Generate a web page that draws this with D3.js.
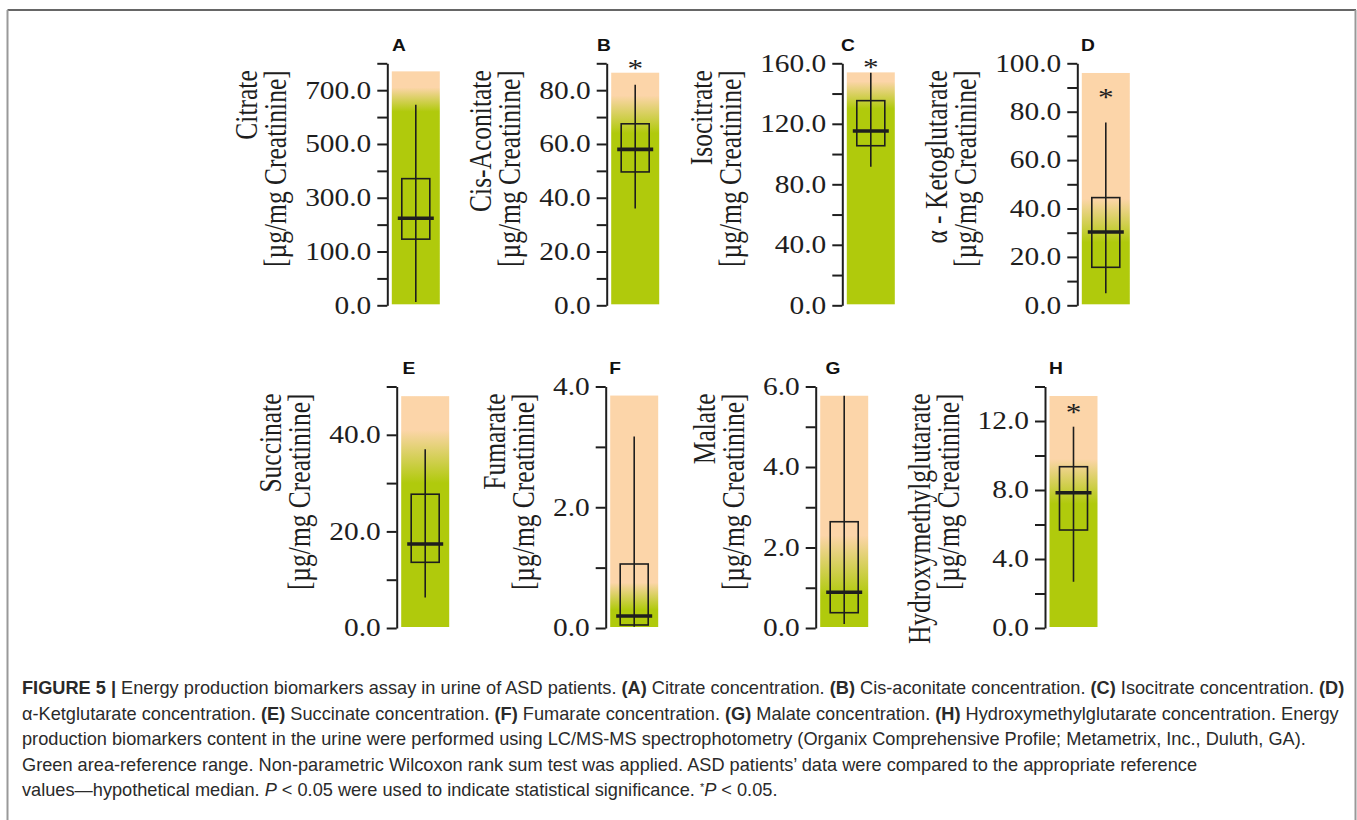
<!DOCTYPE html>
<html><head><meta charset="utf-8">
<script src="https://cdn.jsdelivr.net/npm/d3@7"></script>
<style>
body{margin:0;background:#fff;}
svg{display:block;}
</style></head><body>
<svg id="chart" width="1357" height="820"></svg>
<script>
// ---------------- DATA ----------------
const letters = ["A","B","C","D","E","F","G","H"];
const metabolites = ["Citrate","Cis-Aconitate","Isocitrate","α - Ketoglutarate","Succinate","Fumarate","Malate","Hydroxymethylglutarate"];
const unitLabel = "[µg/mg Creatinine]";
const whiskerLow  = [6,   36,   91.6,  5,    6.3,  0.02, 0.1,  2.68];
const q1          = [146, 49.6, 105.5, 15.7, 13.6, 0.05, 0.38, 5.68];
const median      = [224, 58,   115.2, 30.3, 17.4, 0.2,  0.89, 7.84];
const q3          = [371, 67.5, 135.3, 44.5, 27.7, 1.06, 2.64, 9.35];
const whiskerHigh = [646, 82,   153.8, 75.5, 37,   3.17, 5.77, 11.67];
const refUpper    = [620, 64,   130,   26,   30,   0.3,  0.8,  7.2];   // top of solid green (reference range)
const refFadeTop  = [710, 78,   148,   44,   41,   0.75, 2.3,  9.8];   // where shading turns fully orange
const shadeMax    = [770, 86.5, 154,   96,   48,   3.85, 5.77, 13.45];
const majorTicks = [[0,100,300,500,700],[0,20,40,60,80],[0,40,80,120,160],[0,20,40,60,80,100],[0,20,40],[0,2,4],[0,2,4,6],[0,4,8,12]];
const minorTicks = [[50,200,400,600,800],[10,30,50,70,90],[20,60,100,140],[10,30,50,70,90],[10,30,50],[1,3],[1,3,5],[2,6,10,14]];
const starAt = [null, 90.2, 161, 88, null, null, null, 12.8];
const captionLines = [
  [["FIGURE 5 |","b"],[" Energy production biomarkers assay in urine of ASD patients. ",""],["(A)","b"],[" Citrate concentration. ",""],["(B)","b"],[" Cis-aconitate concentration. ",""],["(C)","b"],[" Isocitrate concentration. ",""],["(D)","b"]],
  [["α-Ketglutarate concentration. ",""],["(E)","b"],[" Succinate concentration. ",""],["(F)","b"],[" Fumarate concentration. ",""],["(G)","b"],[" Malate concentration. ",""],["(H)","b"],[" Hydroxymethylglutarate concentration. Energy",""]],
  [["production biomarkers content in the urine were performed using LC/MS-MS spectrophotometry (Organix Comprehensive Profile; Metametrix, Inc., Duluth, GA).",""]],
  [["Green area-reference range. Non-parametric Wilcoxon rank sum test was applied. ASD patients’ data were compared to the appropriate reference",""]],
  [["values\u2014hypothetical median. ",""],["P","i"],[" < 0.05 were used to indicate statistical significance. ",""],["*","s"],["P","i"],[" < 0.05.",""]]
];

// ---------------- LAYOUT ----------------
const svg = d3.select("#chart");
const SX = 1.2;                       // horizontal stretch of the original figure text
const GREEN = "#b0ca0c", ORANGE = "#fcd5a9", INK = "#1e1e1e";
const axisX   = [387.3, 606.7, 842.3, 1077.3, 396.7, 605.7, 815.7, 1045];
const letterX = [399, 604, 848, 1088, 409, 615, 833, 1056];
const rowTop  = [63.3, 386.5], rowZero = [305.3, 628];

// frame
svg.append("line").attr("x1",7.5).attr("x2",1356).attr("y1",10).attr("y2",10).attr("stroke","#333").attr("stroke-width",1.5);
svg.append("line").attr("x1",7.5).attr("x2",7.5).attr("y1",10).attr("y2",820).attr("stroke","#999").attr("stroke-width",2);
svg.append("line").attr("x1",1355.5).attr("x2",1355.5).attr("y1",10).attr("y2",820).attr("stroke","#999").attr("stroke-width",2);

const defs = svg.append("defs");

letters.forEach((L, i) => {
  const row = i < 4 ? 0 : 1;
  const top = rowTop[row], y0 = rowZero[row], H = y0 - top;
  const ticks = majorTicks[i].concat(minorTicks[i]).sort((a,b)=>a-b);
  const n = ticks.length;
  // axis ticks are evenly spaced in the original figure
  const y = d3.scaleLinear().domain(ticks).range(ticks.map((_,k) => y0 - k*H/(n-1)));
  const ax = axisX[i];
  const g = svg.append("g");

  // shading gradient
  const gid = "grad" + i;
  const grad = defs.append("linearGradient").attr("id", gid)
    .attr("gradientUnits","userSpaceOnUse").attr("x1",0).attr("x2",0)
    .attr("y1", y(refUpper[i])).attr("y2", y(refFadeTop[i]));
  grad.append("stop").attr("offset",0).attr("stop-color",GREEN);
  grad.append("stop").attr("offset",1).attr("stop-color",ORANGE);

  const rx = ax + 4.5, rw = 48, cx = rx + rw/2;
  g.append("rect").attr("x", rx).attr("width", rw)
    .attr("y", y(shadeMax[i])).attr("height", y(0) - 1 - y(shadeMax[i]))
    .attr("fill", `url(#${gid})`);

  // whisker
  g.append("line").attr("x1",cx).attr("x2",cx).attr("y1",y(whiskerLow[i])).attr("y2",y(whiskerHigh[i]))
    .attr("stroke",INK).attr("stroke-width",1.6);
  // box
  g.append("rect").attr("x",cx-14).attr("width",28).attr("y",y(q3[i])).attr("height",y(q1[i])-y(q3[i]))
    .attr("fill","none").attr("stroke",INK).attr("stroke-width",1.6);
  // median
  g.append("line").attr("x1",cx-18).attr("x2",cx+18).attr("y1",y(median[i])).attr("y2",y(median[i]))
    .attr("stroke",INK).attr("stroke-width",3.6);

  // axis
  const axis = d3.axisLeft(y).tickValues(ticks).tickSize(10).tickSizeOuter(0).tickPadding(6)
    .tickFormat(d => majorTicks[i].includes(d) ? d.toFixed(1) : "");
  const ag = g.append("g").attr("transform", `translate(${ax},0)`).call(axis);
  ag.select(".domain").attr("stroke",INK).attr("stroke-width",2);
  ag.selectAll(".tick line").attr("stroke",INK).attr("stroke-width",2);
  ag.selectAll(".tick text").attr("fill",INK)
    .style("font-family","'Liberation Serif','Times New Roman',serif").style("font-size","24.5px")
    .each(function(){ const t = d3.select(this); const x = +t.attr("x");
      t.attr("x",0).attr("transform",`translate(${x},0) scale(${SX},1)`); });

  // left extent of tick labels
  let minLeft = Infinity;
  ag.selectAll(".tick text").each(function(){
    if (!this.textContent) return;
    const b = this.getBoundingClientRect(); minLeft = Math.min(minLeft, b.left);
  });
  const base2 = minLeft - 19, base1 = base2 - 29, yEnd = top + 7;
  [[metabolites[i], base1],[unitLabel, base2]].forEach(([txt, bx]) => {
    g.append("text").attr("transform", `translate(${bx},${yEnd}) scale(${SX},1) rotate(-90)`)
      .attr("text-anchor","end").attr("fill",INK)
      .style("font-family","'Liberation Serif','Times New Roman',serif").style("font-size","25.5px")
      .text(txt);
  });

  // panel letter
  g.append("text").attr("transform", `translate(${letterX[i]},${top - 12.5}) scale(${SX},1)`)
    .attr("text-anchor","middle").attr("fill","#111")
    .style("font-family","'Liberation Sans',Arial,sans-serif").style("font-weight","bold").style("font-size","16px")
    .text(L);

  // significance star
  if (starAt[i] !== null) {
    g.append("text").attr("transform", `translate(${cx},${y(starAt[i]) + 14}) scale(${SX},1)`)
      .attr("text-anchor","middle").attr("fill",INK)
      .style("font-family","'Liberation Serif','Times New Roman',serif").style("font-size","26px")
      .text("*");
  }
});

// ---------------- CAPTION ----------------
const cap = svg.append("g").attr("fill","#2a2a2a").style("font-family","'Liberation Sans',Arial,sans-serif");
const capBase = [694, 719.5, 745, 770.5, 796];
const texts = captionLines.map((parts, li) => {
  const t = cap.append("text").attr("x",22).attr("y",capBase[li]).style("font-size","15px");
  parts.forEach(([s, f]) => {
    const ts = t.append("tspan").text(s);
    if (f === "b") ts.style("font-weight","bold");
    if (f === "i") ts.style("font-style","italic");
    if (f === "s") ts.attr("dy",-5).style("font-size","9px");
  });
  return t;
});
// restore baseline after superscript
texts[4].selectAll("tspan").each(function(d, k, nodes){
  const prev = nodes[k-1];
  if (prev && prev.textContent === "*") d3.select(this).attr("dy",5);
});
// fit first line width to the original (~1323px)
const w0 = texts[0].node().getComputedTextLength();
const fs = 15 * 1323 / w0;
texts.forEach(t => t.style("font-size", fs + "px"));
texts[4].selectAll("tspan").filter(function(){ return this.textContent === "*"; }).style("font-size", (fs*0.6)+"px");
</script>
</body></html>
